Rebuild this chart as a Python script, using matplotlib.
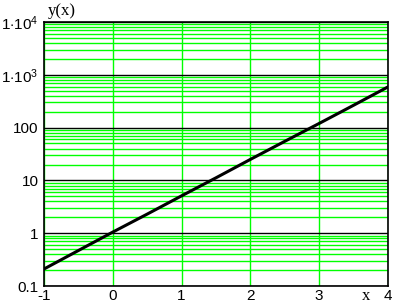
import numpy as np
import matplotlib
matplotlib.use("Agg")
import matplotlib.pyplot as plt
from matplotlib.ticker import FixedLocator, LogLocator, NullFormatter

# values
x_vals = [-1, -0.5, 0, 0.5, 1, 1.5, 2, 2.5, 3, 3.5, 4]
y_vals = [0.21, 0.47, 1.05, 2.3, 5.1, 11.2, 25, 55, 120, 265, 590]

y_ticks = [0.1, 1, 10, 100, 1e3, 1e4]
y_tick_labels = ["0.1", "1", "10", "100", r"$1{\cdot}10^{3}$", r"$1{\cdot}10^{4}$"]
x_ticks = [-1, 0, 1, 2, 3, 4]
x_tick_labels = ["-1", "0", "1", "2", "3", "4"]

plt.rcParams['font.family'] = ['Liberation Sans', 'DejaVu Sans']
plt.rcParams['mathtext.fontset'] = 'custom'
plt.rcParams['mathtext.rm'] = 'Liberation Sans'
plt.rcParams['mathtext.it'] = 'Liberation Sans'

fig = plt.figure(figsize=(3.94, 3.05), dpi=100)
ax = fig.add_axes([44 / 394, 1 - 286 / 305, 344 / 394, 264 / 305])

ax.set_yscale('log')
ax.set_xlim(-1, 4)
ax.set_ylim(0.1, 1e4)

ax.yaxis.set_minor_locator(LogLocator(base=10, subs=np.arange(2, 10)))
ax.yaxis.set_minor_formatter(NullFormatter())
ax.grid(True, which='minor', axis='y', color='#00ff00', lw=1.0)
ax.xaxis.set_major_locator(FixedLocator(x_ticks))
ax.grid(True, which='major', axis='x', color='#00ff00', lw=1.0)
ax.grid(True, which='major', axis='y', color='black', lw=1.0)
ax.set_axisbelow(True)

ax.plot(x_vals, y_vals, color='black', lw=2.2, zorder=3)

ax.set_yticks(y_ticks)
ax.set_yticklabels(y_tick_labels, fontsize=11)
ax.set_xticks(x_ticks)
ax.set_xticklabels(x_tick_labels, fontsize=11)
ax.tick_params(which='both', length=0)
ax.tick_params(axis='y', pad=4)
ax.tick_params(axis='x', pad=2)

for s in ax.spines.values():
    s.set_color('black')
    s.set_linewidth(1.2)

fig.text(48 / 394, 1 - 11 / 305, "y(x)", family='Liberation Serif', fontsize=12,
         ha='left', va='center')
fig.text(366 / 394, 1 - 296 / 305, "x", family='Liberation Serif', fontsize=12,
         ha='center', va='center')

fig.savefig("out.png", dpi=100)
